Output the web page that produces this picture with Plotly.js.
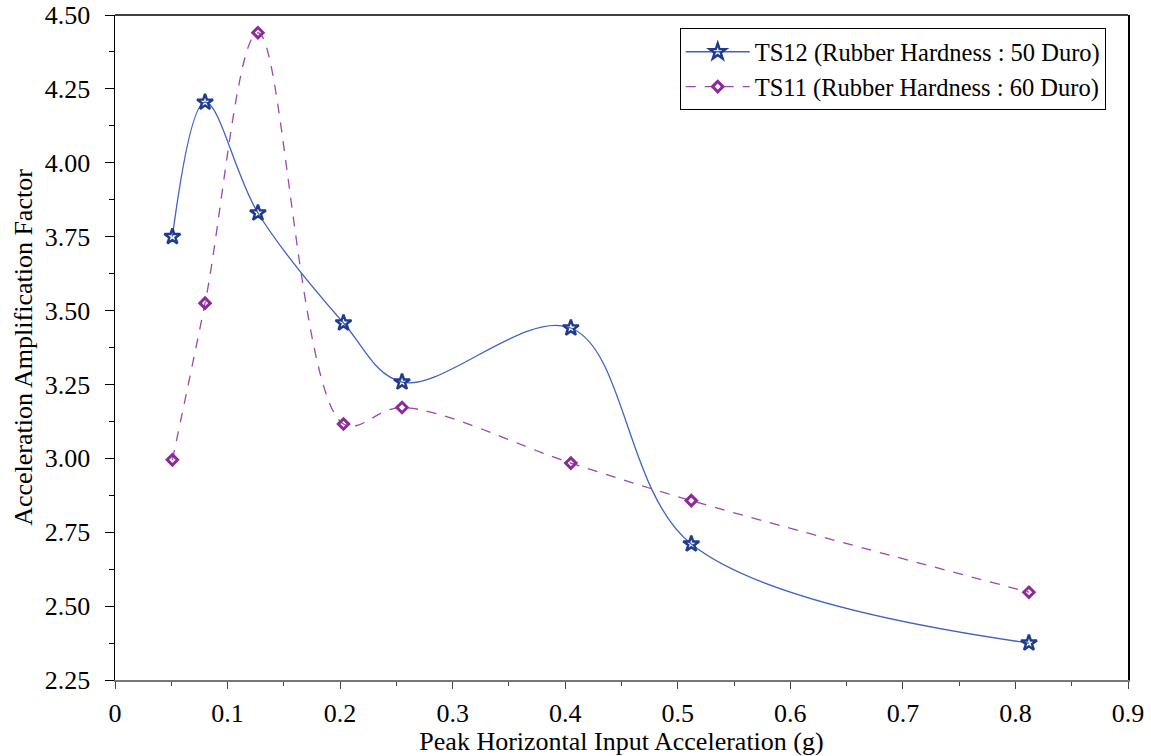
<!DOCTYPE html>
<html>
<head>
<meta charset="utf-8">
<script src="https://cdn.plot.ly/plotly-3.0.1.min.js"></script>
<style>
  html, body { margin: 0; padding: 0; background: #fff; }
  #chart { width: 1151px; height: 756px; }
</style>
</head>
<body>
<div id="chart"></div>
<script>
// Peak horizontal input acceleration (g) for each test
const pga = [0.051, 0.080, 0.127, 0.203, 0.255, 0.405, 0.512, 0.812];

// Acceleration amplification factors
const ts12 = [3.750, 4.205, 3.830, 3.458, 3.258, 3.441, 2.710, 2.375];
const ts11 = [2.995, 3.525, 4.440, 3.116, 3.172, 2.984, 2.857, 2.547];

const seriesNames = ['TS12 (Rubber Hardness : 50 Duro)', 'TS11 (Rubber Hardness : 60 Duro)'];

const serif = "'Liberation Serif'";
const fs = 26;

const traces = [
  {
    x: pga, y: ts12, name: seriesNames[0],
    type: 'scatter', mode: 'lines+markers',
    line: { color: '#3f63c4', width: 1.3, shape: 'spline', smoothing: 1 },
    marker: { symbol: 'star-open', size: 12, color: '#1f3a8f', line: { width: 2.4, color: '#1f3a8f' } }
  },
  {
    x: pga, y: ts11, name: seriesNames[1],
    type: 'scatter', mode: 'lines+markers',
    line: { color: '#9a47b4', width: 1.3, shape: 'spline', smoothing: 1, dash: '10px,9px' },
    marker: { symbol: 'diamond-open', size: 8, color: '#8c2a96', line: { width: 3, color: '#8c2a96' } }
  }
];

const layout = {
  width: 1151, height: 756,
  margin: { l: 115, r: 23, t: 15, b: 76 },
  paper_bgcolor: '#fff', plot_bgcolor: '#fff',
  font: { family: serif, size: fs, color: '#000' },
  showlegend: true,
  legend: {
    x: 0.978, y: 0.98, xanchor: 'right', yanchor: 'top',
    bgcolor: '#fff', bordercolor: '#000', borderwidth: 1,
    font: { family: serif, size: 24.5, color: '#000' },
    tracegroupgap: 0, itemwidth: 64
  },
  xaxis: {
    range: [0, 0.9], dtick: 0.1, tick0: 0,
    tickformat: '~g',
    showgrid: false, zeroline: false,
    showline: true, linecolor: '#777', linewidth: 1.5,
    ticks: 'outside', ticklen: 7, tickcolor: '#444', tickwidth: 1,
    minor: { dtick: 0.05, ticks: 'outside', ticklen: 4, tickcolor: '#444', tickwidth: 1 },
    ticklabelstandoff: 2,
    tickfont: { family: serif, size: fs, color: '#000' },
    title: { text: 'Peak Horizontal Input Acceleration (g)', font: { family: serif, size: fs, color: '#000' }, standoff: 2 }
  },
  yaxis: {
    range: [2.25, 4.5], dtick: 0.25, tick0: 2.25,
    tickformat: '.2f',
    showgrid: false, zeroline: false,
    showline: true, linecolor: '#000', linewidth: 1.5, mirror: true,
    ticks: 'outside', ticklen: 9, tickcolor: '#000', tickwidth: 1,
    minor: { dtick: 0.125, ticks: 'outside', ticklen: 5, tickcolor: '#000', tickwidth: 1 },
    ticklabelstandoff: 9,
    tickfont: { family: serif, size: fs, color: '#000' },
    title: { text: 'Acceleration Amplification Factor', font: { family: serif, size: fs, color: '#000' }, standoff: 4 }
  },
  shapes: [
    { type: 'line', xref: 'paper', yref: 'paper', x0: 0, x1: 1, y0: 1, y1: 1, line: { color: '#000', width: 1.5 } }
  ]
};

Plotly.newPlot('chart', traces, layout, { displayModeBar: false, staticPlot: true });
</script>
</body>
</html>
